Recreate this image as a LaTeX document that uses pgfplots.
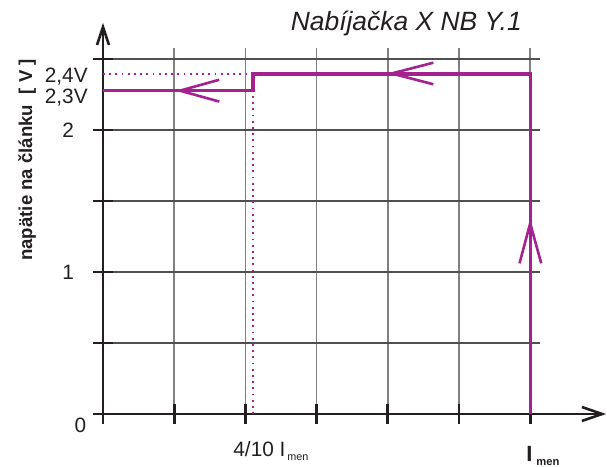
\documentclass[border=0pt]{standalone}
\usepackage{fontspec}
\setmainfont{Liberation Sans}
\usepackage{pgfplots}
\pgfplotsset{compat=1.18}
\definecolor{purp}{HTML}{A3228F}
\definecolor{txt}{HTML}{231F20}
\definecolor{vgrid}{HTML}{808080}
\definecolor{hgrid}{HTML}{505050}
\begin{document}
\begin{tikzpicture}
\useasboundingbox (-51.5pt,-26.5pt) rectangle (252pt,207pt);
\begin{axis}[
  x=35.6pt, y=71pt,
  xmin=0, xmax=6.14, ymin=0, ymax=2.58,
  clip=false,
  axis lines=left,
  axis line style={draw=none},
  xtick={0,1,...,6},
  ytick={0,0.5,1,1.5,2,2.5},
  xticklabels={},
  yticklabels={,,1,,2,},
  /pgf/number format/assume math mode=true,
  tick label style={font=\fontsize{10.4}{12}\selectfont, text=txt},
  yticklabel style={xshift=-6pt},
  tick align=center,
  major tick length=10pt,
  tick style={line width=1.4pt, color=txt},
  grid=major,
  x grid style={line width=0.8pt, color=vgrid},
  y grid style={line width=0.8pt, color=hgrid},
]
% axes with open arrow heads
\draw[line width=0.8pt, color=txt] (axis cs:0,0) -- (axis cs:7.01,0);
\draw[line width=0.8pt, color=txt] (axis cs:0,0) -- (axis cs:0,2.725);
\draw[line width=1.3pt, color=txt] (axis cs:6.727,0.049) -- (axis cs:7.01,0) -- (axis cs:6.727,-0.049);
\draw[line width=1.3pt, color=txt] (axis cs:-0.084,2.599) -- (axis cs:0,2.725) -- (axis cs:0.084,2.599);
% dotted guides
\addplot[purp, line width=0.9pt, dash pattern=on 0.9pt off 2.2pt] coordinates {(0,2.394) (2.11,2.394)};
\addplot[purp, line width=0.9pt, dash pattern=on 0.9pt off 2.2pt] coordinates {(2.11,0) (2.11,2.277)};
% characteristic
\addplot[purp, line width=1.7pt] coordinates {(6,0) (6,2.394) (2.107,2.394) (2.107,2.277) (0,2.277)};
% direction chevrons
\addplot[purp, line width=1.3pt] coordinates {(1.634,2.354) (1.081,2.277) (1.634,2.200)};
\addplot[purp, line width=1.3pt] coordinates {(4.64,2.474) (4.054,2.398) (4.64,2.322)};
\addplot[purp, line width=1.3pt] coordinates {(5.85,1.061) (6,1.343) (6.155,1.061)};
% labels
\node[anchor=east, inner sep=0, text=txt, font=\fontsize{10.4}{12}\selectfont] at (axis cs:-0.23,-0.077) {0};
\node[anchor=east, inner sep=0, text=txt, font=\fontsize{10.4}{12}\selectfont] at (axis cs:-0.21,2.373) {2,4V};
\node[anchor=east, inner sep=0, text=txt, font=\fontsize{10.4}{12}\selectfont] at (axis cs:-0.21,2.225) {2,3V};
\node[anchor=base west, inner sep=0, text=txt, font=\fontsize{10.4}{12}\selectfont] at (axis cs:1.826,-0.296) {4/10 I\kern1pt\raisebox{-2pt}{\fontsize{5.4}{6}\selectfont men}};
\node[anchor=base west, inner sep=0, text=txt] at (axis cs:5.94,-0.338) {\fontsize{11}{13}\selectfont\bfseries I\kern2pt\raisebox{-2pt}{\fontsize{5.6}{6}\selectfont men}};
\node[text=txt, font=\fontsize{13.2}{15}\selectfont\itshape] at (axis cs:4.26,2.75) {Nabíjačka X NB Y.1};
\node[rotate=90, text=txt, font=\fontsize{9.3}{11}\selectfont\bfseries] at (axis cs:-1.067,1.789) {napätie na článku \ [ V ]};
\end{axis}
\end{tikzpicture}
\end{document}
